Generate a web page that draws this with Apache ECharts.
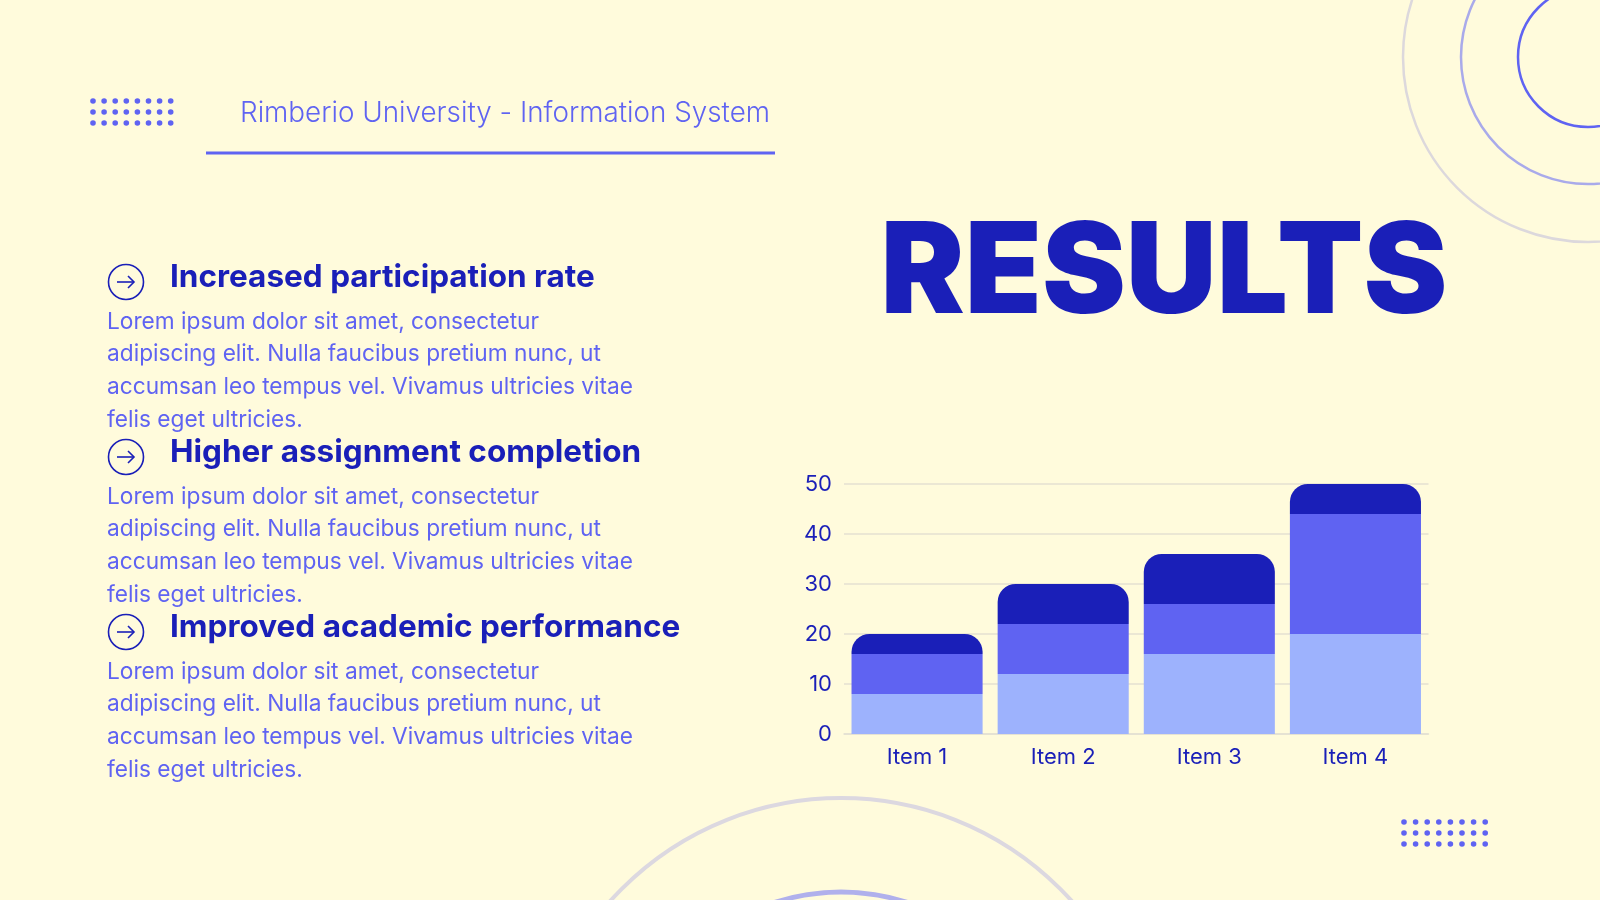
<!DOCTYPE html>
<html>
<head>
<meta charset="utf-8">
<script src="https://cdn.jsdelivr.net/npm/echarts@6/dist/echarts.min.js"></script>
<style>
  html, body { margin: 0; padding: 0; background: #fffbdc; }
  #main { width: 1600px; height: 900px; }
</style>
</head>
<body>
<div id="main"></div>
<script>
// chart data
var categories = ['Item 1', 'Item 2', 'Item 3', 'Item 4'];
var seriesLow = [8, 12, 16, 20];
var seriesMid = [8, 10, 10, 24];
var seriesTop = [4, 8, 10, 6];
var yTicks = [0, 10, 20, 30, 40, 50];

// slide texts
var headerText = 'Rimberio University - Information System';
var titleText = 'RESULTS';
var headings = ['Increased participation rate', 'Higher assignment completion', 'Improved academic performance'];
var bodyLines = [
    'Lorem ipsum dolor sit amet, consectetur',
    'adipiscing elit. Nulla faucibus pretium nunc, ut',
    'accumsan leo tempus vel. Vivamus ultricies vitae',
    'felis eget ultricies.'
];

var DARK = '#1a1fb8';
var MID = '#5f63f2';
var LIGHT = '#9db2fd';
var FONT = 'Inter, "Noto Sans", sans-serif';

var chart = echarts.init(document.getElementById('main'));

var graphics = [];

// dot grids
function dotGrid(x0, y0, cols, rows, dx, dy, r) {
    for (var i = 0; i < rows; i++) {
        for (var j = 0; j < cols; j++) {
            graphics.push({
                type: 'circle', silent: true,
                shape: { cx: x0 + j * dx, cy: y0 + i * dy, r: r },
                style: { fill: MID }
            });
        }
    }
}
dotGrid(93, 101, 8, 3, 11.1, 11, 2.8);
dotGrid(1404, 822, 8, 3, 11.6, 11, 2.8);

// rings top right
graphics.push({ type: 'circle', silent: true, shape: { cx: 1588, cy: 57, r: 185 }, style: { fill: 'none', stroke: '#dcd8dc', lineWidth: 2.5 } });
graphics.push({ type: 'circle', silent: true, shape: { cx: 1588, cy: 57, r: 127 }, style: { fill: 'none', stroke: '#a9aaea', lineWidth: 2.5 } });
graphics.push({ type: 'circle', silent: true, shape: { cx: 1588, cy: 57, r: 70 }, style: { fill: 'none', stroke: MID, lineWidth: 2.5 } });
// rings bottom
graphics.push({ type: 'circle', silent: true, shape: { cx: 841, cy: 1108, r: 310 }, style: { fill: 'none', stroke: '#dcd8e0', lineWidth: 4 } });
graphics.push({ type: 'circle', silent: true, shape: { cx: 841, cy: 1108, r: 216 }, style: { fill: 'none', stroke: '#b0b0ec', lineWidth: 5 } });

// header
graphics.push({
    type: 'text', silent: true, x: 240, y: 114,
    style: { text: headerText, font: '300 27.8px ' + FONT, fill: MID, textAlign: 'left', textVerticalAlign: 'middle' }
});
graphics.push({ type: 'rect', silent: true, shape: { x: 206, y: 151.5, width: 569, height: 3 }, style: { fill: MID } });

// big title
graphics.push({
    type: 'text', silent: true, x: 1164, y: 275,
    style: { text: titleText, font: '900 126px ' + FONT, fill: DARK, textAlign: 'center', textVerticalAlign: 'middle' }
});

// bullet blocks
for (var k = 0; k < headings.length; k++) {
    var cy = 282 + k * 175;
    graphics.push({ type: 'circle', silent: true, shape: { cx: 126, cy: cy, r: 17.5 }, style: { fill: 'none', stroke: DARK, lineWidth: 1.6 } });
    graphics.push({ type: 'polyline', silent: true, shape: { points: [[117, cy], [134, cy]] }, style: { stroke: DARK, lineWidth: 1.6, fill: 'none' } });
    graphics.push({ type: 'polyline', silent: true, shape: { points: [[128, cy - 6], [134, cy], [128, cy + 6]] }, style: { stroke: DARK, lineWidth: 1.6, fill: 'none' } });
    graphics.push({
        type: 'text', silent: true, x: 170, y: cy - 4,
        style: { text: headings[k], font: '700 31.5px ' + FONT, fill: DARK, textAlign: 'left', textVerticalAlign: 'middle' }
    });
    for (var m = 0; m < bodyLines.length; m++) {
        graphics.push({
            type: 'text', silent: true, x: 107, y: cy + 40 + m * 32.6,
            style: { text: bodyLines[m], font: '400 22.7px ' + FONT, fill: MID, textAlign: 'left', textVerticalAlign: 'middle' }
        });
    }
}

var topRadius = [18, 18, 0, 0];

var option = {
    backgroundColor: '#fffbdc',
    animation: false,
    graphic: graphics,
    grid: { left: 844, right: 171.5, top: 484, bottom: 166, containLabel: false },
    xAxis: {
        type: 'category',
        data: categories,
        axisLine: { show: true, lineStyle: { color: '#e4e1d2', width: 1.5 } },
        axisTick: { show: false },
        axisLabel: { color: DARK, fontSize: 22, fontFamily: FONT, margin: 12 }
    },
    yAxis: {
        type: 'value',
        min: yTicks[0],
        max: yTicks[yTicks.length - 1],
        interval: yTicks[1] - yTicks[0],
        axisLine: { show: false },
        axisTick: { show: false },
        splitLine: { lineStyle: { color: '#e4e1d2', width: 1.5 } },
        axisLabel: { color: DARK, fontSize: 22, fontFamily: FONT, margin: 12 }
    },
    series: [
        { type: 'bar', stack: 's', data: seriesLow, barCategoryGap: '10.3%', itemStyle: { color: LIGHT } },
        { type: 'bar', stack: 's', data: seriesMid, itemStyle: { color: MID } },
        { type: 'bar', stack: 's', data: seriesTop, itemStyle: { color: DARK, borderRadius: topRadius } }
    ]
};

chart.setOption(option);
</script>
</body>
</html>
